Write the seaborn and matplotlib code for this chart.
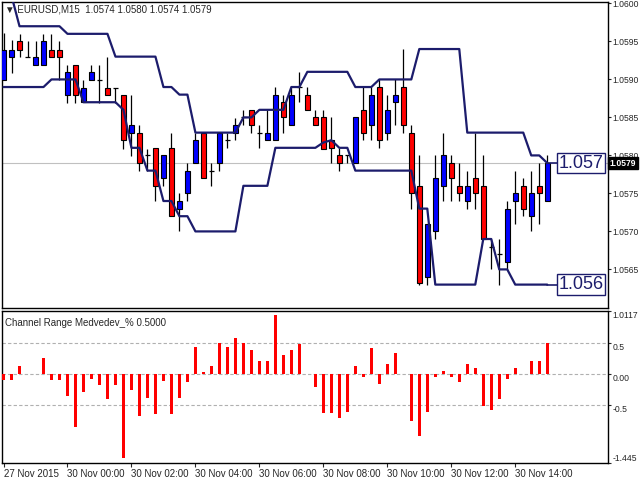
import numpy as np
import pandas as pd
import matplotlib
matplotlib.use("Agg")
import matplotlib.pyplot as plt
import seaborn as sns

opens = [1.05899,1.05929,1.0595,1.05929,1.05919,1.05919,1.05939,1.05939,1.05879,1.05919,
         1.0587,1.05899,1.05899,1.05889,1.05889,1.05879,1.05829,1.05829,1.0580,1.0581,
         1.0577,1.0581,1.0573,1.0575,1.0579,1.0583,1.0578,1.0579,1.0582,1.0583,
         1.0585,1.0586,1.0583,1.0582,1.0582,1.0587,1.0584,1.0589,1.0588,1.0585,
         1.0585,1.0582,1.0580,1.0580,1.0579,1.0586,1.0584,1.0589,1.0583,1.0587,
         1.0589,1.0583,1.0576,1.0564,1.0570,1.0576,1.0579,1.0576,1.0574,1.0577,
         1.0576,1.0568,1.0567,1.0566,1.0574,1.0576,1.0572,1.0576,1.0574]
closes = [1.05939,1.05939,1.05939,1.05929,1.05929,1.0595,1.05929,1.05929,1.0591,1.05879,
          1.05889,1.0591,1.05899,1.05879,1.05889,1.0582,1.0584,1.0579,1.0580,1.0576,
          1.0580,1.0572,1.0574,1.0578,1.0582,1.0577,1.0578,1.0583,1.0582,1.0584,
          1.0585,1.0584,1.0583,1.0583,1.0588,1.0585,1.0588,1.0589,1.0586,1.0584,
          1.05809,1.0581,1.0579,1.0580,1.0585,1.0583,1.0588,1.0582,1.0586,1.0588,
          1.0584,1.0575,1.05632,1.0571,1.0577,1.0580,1.0577,1.0575,1.0576,1.0575,
          1.0569,1.0568,1.0567,1.0573,1.0575,1.0573,1.0575,1.0575,1.0579]
highs = [1.05961,1.05952,1.0596,1.0595,1.0595,1.0596,1.0596,1.0595,1.05919,1.05919,
         1.05899,1.05919,1.05919,1.05929,1.05889,1.05879,1.05879,1.0584,1.05809,1.0581,
         1.0580,1.0583,1.0575,1.0579,1.0583,1.0583,1.0579,1.0583,1.0583,1.05849,
         1.0586,1.0586,1.0584,1.0586,1.0589,1.0588,1.0589,1.0591,1.0589,1.0586,
         1.0586,1.0585,1.0581,1.0580,1.0585,1.0589,1.0589,1.0590,1.0588,1.0590,
         1.0594,1.0584,1.0580,1.0571,1.0580,1.0583,1.0580,1.0579,1.0578,1.0583,
         1.0580,1.0569,1.0569,1.0574,1.0578,1.0577,1.0578,1.0579,1.0580]
lows = [1.05899,1.05909,1.05929,1.05929,1.05919,1.05919,1.05929,1.05899,1.05869,1.05869,
        1.0587,1.05899,1.05869,1.05879,1.05869,1.05809,1.05799,1.05779,1.05779,1.0574,
        1.0576,1.0572,1.0570,1.0574,1.0579,1.0577,1.0576,1.0578,1.0581,1.0582,
        1.0584,1.0583,1.0581,1.0582,1.0582,1.0583,1.0584,1.0587,1.0586,1.0584,
        1.0581,1.0579,1.0578,1.0579,1.0579,1.0582,1.0582,1.0581,1.0582,1.0584,
        1.0583,1.0573,1.0563,1.0563,1.0569,1.0574,1.0574,1.0574,1.0573,1.0573,
        1.0569,1.0565,1.0563,1.0565,1.0571,1.0572,1.0570,1.0571,1.0574]
upper = [1.0603,1.0601,1.0597,1.0597,1.0597,1.0597,1.0597,1.0597,1.0596,1.0596,
         1.0596,1.0596,1.0596,1.0596,1.0593,1.0593,1.0593,1.0593,1.0593,1.0593,
         1.0589,1.0589,1.0588,1.0588,1.0583,1.0583,1.0583,1.0583,1.0583,1.0583,
         1.0585,1.0585,1.0586,1.0586,1.0586,1.0586,1.0589,1.0589,1.0591,1.0591,
         1.0591,1.0591,1.0591,1.0591,1.0589,1.0589,1.0589,1.0590,1.0590,1.0590,
         1.0590,1.0590,1.0594,1.0594,1.0594,1.0594,1.0594,1.0594,1.0583,1.0583,
         1.0583,1.0583,1.0583,1.0583,1.0583,1.0583,1.0580,1.0580,1.0579]
lower = [1.0589,1.0589,1.0589,1.0589,1.0589,1.0589,1.0590,1.0590,1.0590,1.0590,
         1.0587,1.0587,1.0587,1.0587,1.0587,1.0586,1.0581,1.0581,1.0578,1.0578,
         1.0574,1.0574,1.0572,1.0572,1.0570,1.0570,1.0570,1.0570,1.0570,1.0570,
         1.0576,1.0576,1.0576,1.0576,1.0581,1.0581,1.0581,1.0581,1.0581,1.0581,
         1.05817,1.0582,1.0581,1.0581,1.0578,1.0578,1.0578,1.0578,1.0578,1.0578,
         1.0578,1.0578,1.0573,1.0573,1.0563,1.0563,1.0563,1.0563,1.0563,1.0563,
         1.0569,1.0569,1.0565,1.0565,1.0563,1.0563,1.0563,1.0563,1.0563]
indicator = [-0.10,-0.10,0.12,-0.01,0.0,0.25,-0.10,-0.10,-0.36,-0.86,
             -0.29,-0.08,-0.18,-0.41,-0.18,-1.36,-0.27,-0.69,-0.40,-0.65,
             -0.11,-0.65,-0.40,-0.14,0.43,0.03,0.12,0.49,0.43,0.58,
             0.49,0.38,0.20,0.20,0.95,0.30,0.38,0.48,0.0,-0.21,
             -0.64,-0.64,-0.72,-0.62,0.13,-0.06,0.41,-0.16,0.16,0.33,
             0.0,-0.77,-1.00,-0.62,-0.06,0.05,-0.06,-0.13,0.15,0.10,
             -0.52,-0.59,-0.41,-0.08,0.10,-0.01,0.20,0.20,0.49]
time_labels = ["27 Nov 2015","30 Nov 00:00","30 Nov 02:00","30 Nov 04:00","30 Nov 06:00",
               "30 Nov 08:00","30 Nov 10:00","30 Nov 12:00","30 Nov 14:00"]
price_ticks = [1.0565,1.0570,1.0575,1.0580,1.0585,1.0590,1.0595,1.0600]

sns.set_style("white")
plt.rcParams['font.family'] = ['Liberation Sans', 'DejaVu Sans']
FS = 6.2
NAVY = "#1c1c6c"
n = len(opens)
x = np.arange(n)
df = pd.DataFrame({"x": x, "upper": upper, "lower": lower, "ind": indicator})

fig = plt.figure(figsize=(6.4, 4.8), dpi=100)
ax = fig.add_axes([0.003, 0.358, 0.947, 0.638])
ax2 = fig.add_axes([0.003, 0.035, 0.947, 0.317])
xlim = (-0.2, 75.6)

for i in range(n):
    o, c, h, l = opens[i], closes[i], highs[i], lows[i]
    ax.vlines(i, l, h, color="black", lw=0.9, zorder=2)
    if abs(c - o) < 1e-7:
        ax.hlines(o, i - 0.3, i + 0.3, color="black", lw=0.9, zorder=3)
    else:
        col = "#0000ff" if c > o else "#ff0000"
        ax.bar(i, abs(c - o), bottom=min(o, c), width=0.62, color=col,
               edgecolor="black", linewidth=0.8, zorder=3)
sns.lineplot(data=df, x="x", y="upper", ax=ax, color=NAVY, lw=1.6, zorder=4)
sns.lineplot(data=df, x="x", y="lower", ax=ax, color=NAVY, lw=1.6, zorder=4)
ax.axhline(closes[-1], color="#c0c0c0", lw=0.8, zorder=1)
ax.plot([n - 1, 69.3], [upper[-1]] * 2, color=NAVY, lw=1.2, zorder=4)
ax.plot([n - 1, 69.3], [lower[-1]] * 2, color=NAVY, lw=1.2, zorder=4)
for val, txt in [(upper[-1], "1.057"), (lower[-1], "1.056")]:
    ax.text(69.4, val, txt, fontsize=13, color=NAVY, va="center", ha="left",
            bbox=dict(boxstyle="square,pad=0.1", fc="white", ec=NAVY, lw=1), zorder=6)
ax.set_xlim(*xlim)
ax.set_ylim(1.05599, 1.06002)
ax.yaxis.tick_right()
ax.set_yticks(price_ticks)
ax.set_yticklabels([f"{p:.4f}" for p in price_ticks], fontsize=FS)
ax.tick_params(axis="y", length=2.5, pad=0.5, right=True, direction="out")
ax.set_xticks([])
ax.set_xlabel(""); ax.set_ylabel("")
ax.text(1.003, closes[-1], f"{closes[-1]:.4f}", transform=ax.get_yaxis_transform(),
        fontsize=FS, color="white", va="center", ha="left", fontweight="bold",
        bbox=dict(boxstyle="square,pad=0.2", fc="black", ec="black"), zorder=7, clip_on=False)
ax.text(0.005, 0.975, "\u25BC EURUSD,M15  1.0574 1.0580 1.0574 1.0579", transform=ax.transAxes,
        fontsize=7, va="center", ha="left")

ax2.bar(x, indicator, width=0.42, color="#ff0000", linewidth=0, zorder=3)
for lv in (0.5, 0.0, -0.5):
    ax2.axhline(lv, color="#b0b0b0", lw=0.8, ls=(0, (3, 2)), zorder=1)
ax2.set_xlim(*xlim)
ax2.set_ylim(-1.445, 1.0117)
ax2.yaxis.tick_right()
ax2.set_yticks([1.0117, 0.5, 0.0, -0.5, -1.445])
ax2.set_yticklabels(["1.0117", "0.5", "0.00", "-0.5", "-1.445"], fontsize=FS, va="top")
ax2.get_yticklabels()[-1].set_va("bottom")
ax2.tick_params(axis="y", length=2.5, pad=0.5)
ax2.set_xticks(np.arange(0, 72, 8))
ax2.set_xticklabels(time_labels, fontsize=7, ha="left")
ax2.tick_params(axis="x", length=3, pad=1, bottom=True)
ax2.set_xlabel(""); ax2.set_ylabel("")
ax2.text(0.005, 0.92, "Channel Range Medvedev_% 0.5000", transform=ax2.transAxes,
         fontsize=7, va="center", ha="left")
for a in (ax, ax2):
    for s in a.spines.values():
        s.set_color("black"); s.set_linewidth(1)

fig.savefig("out.png", dpi=100)
